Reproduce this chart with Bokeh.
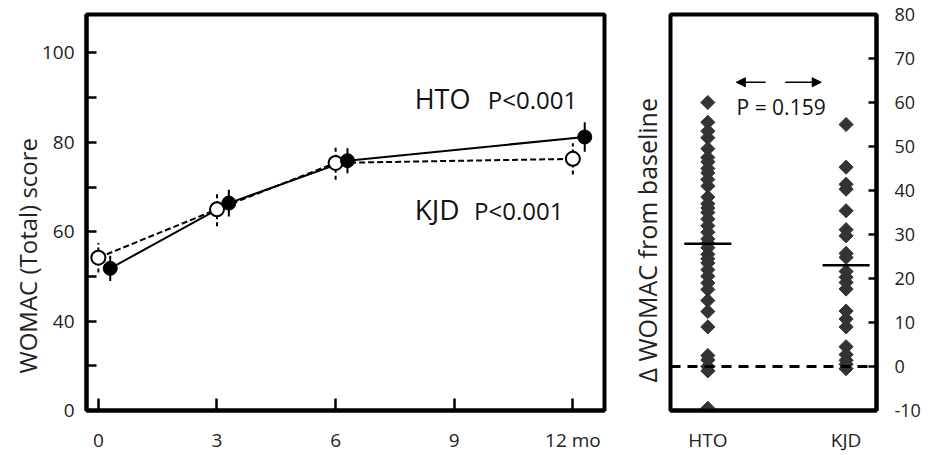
import numpy as np
from bokeh.plotting import figure
from bokeh.models import (FixedTicker, Range1d, Label, Arrow, NormalHead, Span,
                          Title)
from bokeh.layouts import row
from bokeh.embed import file_html
from bokeh.resources import INLINE

FONT = "Open Sans"

# ---------------- data: left panel (WOMAC total over time) ----------------
months = [0, 3, 6, 12]
hto_score = [51.8, 66.4, 75.9, 81.2]
hto_err = [2.8, 3.0, 2.8, 3.3]
kjd_score = [54.2, 65.0, 75.4, 76.3]
kjd_err = [3.3, 3.8, 3.8, 3.5]
hto_offset = 0.3  # HTO points drawn slightly right of the month

x_ticks = [0, 3, 6, 9, 12]
x_tick_labels = {12: "12 mo"}
y_ticks = [20, 40, 60, 80, 100]
y_tick_labels = {20: "0"}  # broken axis: bottom labelled 0
y_minor_ticks = [30, 50, 70, 90]

# ---------------- data: right panel (change from baseline) ----------------
groups = ["HTO", "KJD"]
hto_delta = [60, 55.5, 53.5, 52, 49.5, 47.5, 46.5, 45, 44, 42.5, 41, 38.5,
             37, 36, 35, 33.5, 32, 30.5, 29, 28, 27, 25.5, 24.5, 23.5, 22,
             20.5, 19, 17.5, 15, 12.5, 9, 2.5, 1.5, 0, -1, -9.5]
kjd_delta = [55, 45.3, 41.4, 40.3, 35.4, 31.1, 29.7, 25.7, 24.8, 21.6, 20.3,
             19.1, 17.6, 12.6, 10.8, 9.0, 4.5, 2.7, 1.4, 0.5, -0.5]
group_means = [27.9, 23.0]
delta_ticks = list(range(-10, 81, 10))
delta_tick_labels = {t: str(t) for t in delta_ticks}  # plain hyphen minus

TXT = "#222222"


def style_axis(ax, size="19px"):
    ax.axis_line_width = 4
    ax.axis_line_color = "black"
    ax.major_tick_line_width = 2.5
    ax.minor_tick_line_width = 2.5
    ax.major_tick_line_color = "black"
    ax.minor_tick_line_color = "black"
    ax.major_label_text_font = FONT
    ax.major_label_text_font_size = size
    ax.major_label_text_color = TXT
    ax.minor_tick_in = 0
    ax.minor_tick_out = 0
    ax.major_tick_out = 0


# ---------------- left figure ----------------
p1 = figure(width=622, height=455, x_range=Range1d(-0.3, 12.8),
            y_range=Range1d(20, 108.6), output_backend="svg",
            toolbar_location=None, min_border_left=86, min_border_right=18,
            min_border_top=14, min_border_bottom=43)
p1.grid.visible = False
p1.outline_line_color = "black"
p1.outline_line_width = 4
p1.outline_line_alpha = 1

xa = p1.xaxis[0]
style_axis(xa)
xa.ticker = FixedTicker(ticks=x_ticks)
xa.major_label_overrides = x_tick_labels
xa.major_tick_in = 12
xa.major_label_standoff = 16

ya = p1.yaxis[0]
style_axis(ya)
ya.ticker = FixedTicker(ticks=y_ticks, minor_ticks=y_minor_ticks)
ya.major_label_overrides = y_tick_labels
ya.major_tick_in = 10
ya.minor_tick_in = 10
ya.major_label_standoff = 12

p1.add_layout(Title(text="WOMAC (Total) score", align="left", offset=37,
                    vertical_align="middle", standoff=-12,
                    text_font=FONT, text_font_size="24px",
                    text_font_style="normal", text_color=TXT), "left")

hto_x = [m + hto_offset for m in months]
kjd_x = list(months)

p1.line(kjd_x, kjd_score, line_color="black", line_width=2, line_dash="6 3")
p1.line(hto_x, hto_score, line_color="black", line_width=2)
p1.segment(x0=kjd_x, y0=[s - e for s, e in zip(kjd_score, kjd_err)],
           x1=kjd_x, y1=[s + e for s, e in zip(kjd_score, kjd_err)],
           line_color="black", line_width=2, line_dash="4 3")
p1.segment(x0=hto_x, y0=[s - e for s, e in zip(hto_score, hto_err)],
           x1=hto_x, y1=[s + e for s, e in zip(hto_score, hto_err)],
           line_color="black", line_width=2)
p1.scatter(kjd_x, kjd_score, size=14, fill_color="white", line_color="black",
           line_width=2)
p1.scatter(hto_x, hto_score, size=14, fill_color="black", line_color="black")

p1.add_layout(Label(x=8.0, y=89.9, text="HTO", text_font=FONT,
                    text_font_size="27px", text_baseline="middle",
                    text_color="#111111"))
p1.add_layout(Label(x=9.85, y=89.6, text="P<0.001", text_font=FONT,
                    text_font_size="24px", text_baseline="middle",
                    text_color="#111111"))
p1.add_layout(Label(x=8.0, y=65.0, text="KJD", text_font=FONT,
                    text_font_size="28px", text_baseline="middle",
                    text_color="#111111"))
p1.add_layout(Label(x=9.5, y=64.7, text="P<0.001", text_font=FONT,
                    text_font_size="24px", text_baseline="middle",
                    text_color="#111111"))

# ---------------- right figure ----------------
p2 = figure(width=301, height=455, x_range=Range1d(0.73, 2.22),
            y_range=Range1d(-10, 80), output_backend="svg",
            toolbar_location=None, y_axis_location="right",
            min_border_left=46, min_border_right=45,
            min_border_top=14, min_border_bottom=43)
p2.grid.visible = False
p2.outline_line_color = "black"
p2.outline_line_width = 4
p2.outline_line_alpha = 1

ra = p2.yaxis[0]
style_axis(ra, "18px")
ra.ticker = FixedTicker(ticks=delta_ticks)
ra.major_label_overrides = delta_tick_labels
ra.major_tick_in = 8
ra.major_label_standoff = 18

p2.add_layout(Title(text="Δ  WOMAC from baseline", align="left", offset=28,
                    vertical_align="middle", standoff=12,
                    text_font=FONT, text_font_size="25px",
                    text_font_style="normal", text_color=TXT), "left")

bx = p2.xaxis[0]
style_axis(bx, "19px")
bx.ticker = FixedTicker(ticks=[1, 2])
bx.major_label_overrides = {1: groups[0], 2: groups[1]}
bx.major_tick_in = 0
bx.major_label_standoff = 16

p2.add_layout(Span(location=0, dimension="width", line_color="black",
                   line_width=3, line_dash="10 7"))

p2.scatter([1] * len(hto_delta), hto_delta, marker="square", angle=np.pi / 4,
           size=10, fill_color="#333333", line_color="#333333")
p2.scatter([2] * len(kjd_delta), kjd_delta, marker="square", angle=np.pi / 4,
           size=10, fill_color="#333333", line_color="#333333")
p2.segment(x0=[g - 0.17 for g in (1, 2)], y0=group_means,
           x1=[g + 0.17 for g in (1, 2)], y1=group_means,
           line_color="black", line_width=2.5)

p2.add_layout(Arrow(end=NormalHead(size=9, fill_color="black",
                                   line_color="black"),
                    x_start=1.418, y_start=64.6, x_end=1.206, y_end=64.6,
                    line_width=1.5, line_color="black"))
p2.add_layout(Arrow(end=NormalHead(size=9, fill_color="black",
                                   line_color="black"),
                    x_start=1.56, y_start=64.6, x_end=1.82, y_end=64.6,
                    line_width=1.5, line_color="black"))
p2.add_layout(Label(x=1.53, y=59.0, text="P = 0.159", text_font=FONT,
                    text_font_size="21px", text_baseline="middle",
                    text_align="center", text_color="#111111"))

layout = row(p1, p2, spacing=0)
open("out.html", "w").write(file_html(layout, INLINE))
